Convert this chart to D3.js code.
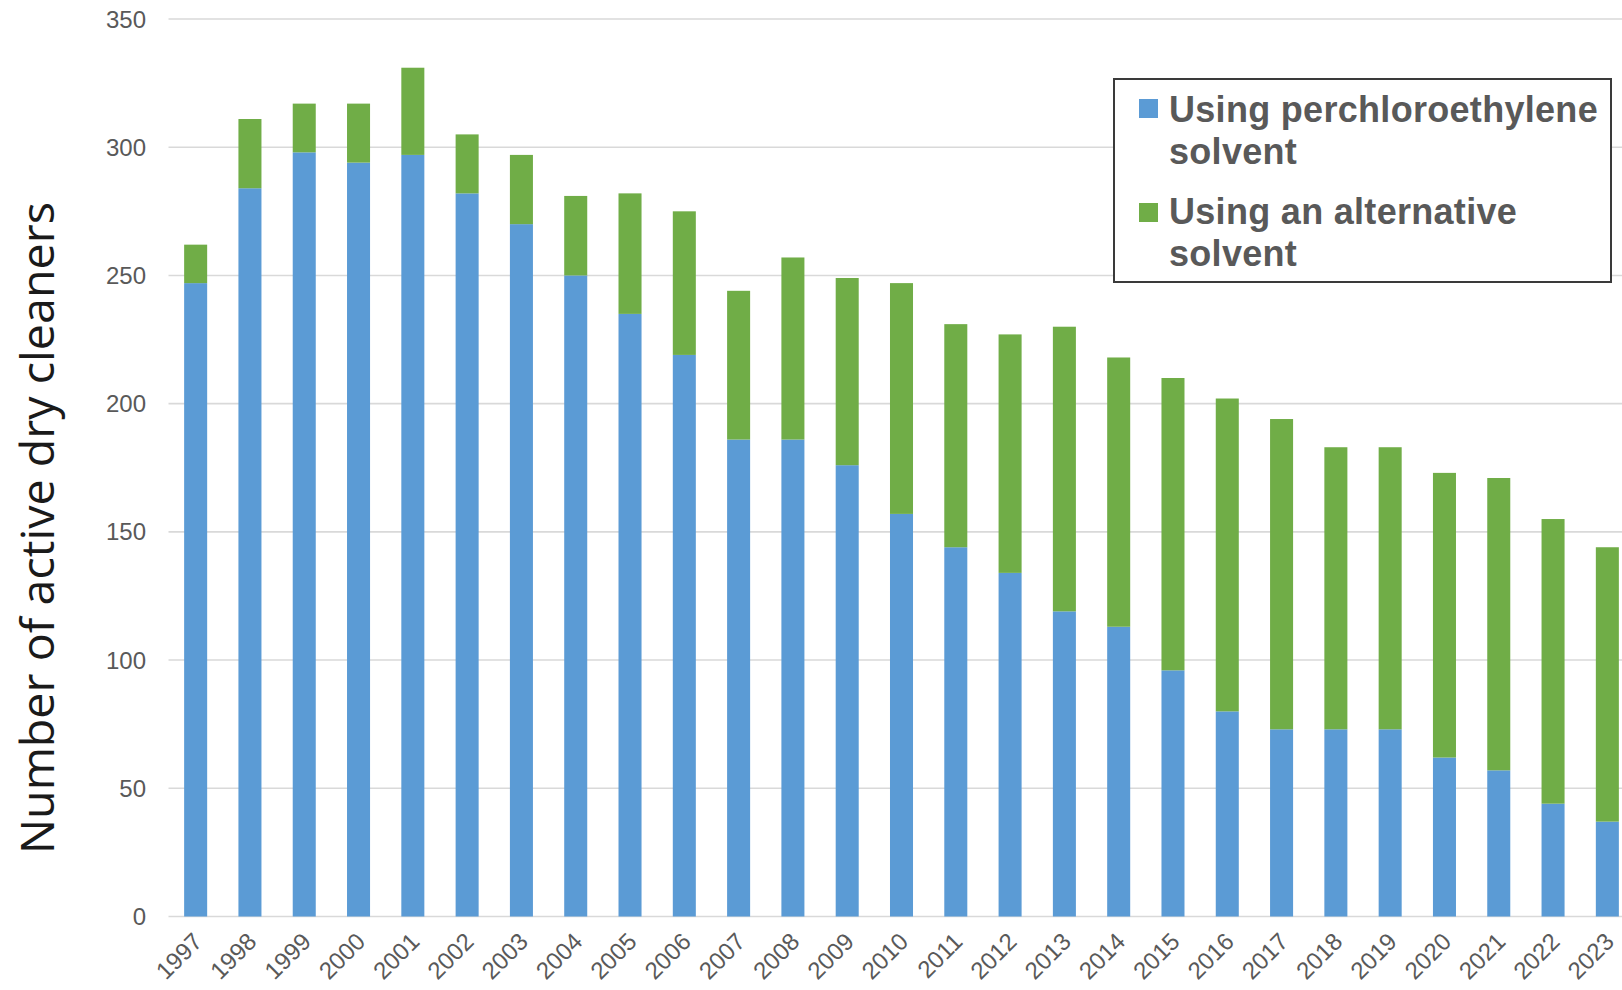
<!DOCTYPE html>
<html>
<head>
<meta charset="utf-8">
<script src="https://cdn.jsdelivr.net/npm/d3@7"></script>
<style>
  html, body { margin: 0; padding: 0; background: #ffffff; }
  svg { display: block; }
</style>
</head>
<body>
<script>
// ---- data ----
const years = ["1997","1998","1999","2000","2001","2002","2003","2004","2005","2006","2007","2008","2009","2010","2011","2012","2013","2014","2015","2016","2017","2018","2019","2020","2021","2022","2023"];
const percValues = [247, 284, 298, 294, 297, 282, 270, 250, 235, 219, 186, 186, 176, 157, 144, 134, 119, 113, 96, 80, 73, 73, 73, 62, 57, 44, 37];
const altValues  = [15, 27, 19, 23, 34, 23, 27, 31, 47, 56, 58, 71, 73, 90, 87, 93, 111, 105, 114, 122, 121, 110, 110, 111, 114, 111, 107];
const seriesNames = ["Using perchloroethylene solvent", "Using an alternative solvent"];
const legendLines = [["Using perchloroethylene", "solvent"], ["Using an alternative", "solvent"]];
const yTicks = [0, 50, 100, 150, 200, 250, 300, 350];
const yTitle = "Number of active dry cleaners";

const W = 1622, H = 990;
const colors = ["#5B9BD5", "#70AD47"];

const rows = years.map((yr, i) => ({ year: yr, perc: percValues[i], alt: altValues[i] }));

const svg = d3.select("body").append("svg").attr("width", W).attr("height", H);

const x = d3.scaleBand().domain(years).range([168.5, 1634.5]).paddingInner(0.576).paddingOuter(0.288);
const y = d3.scaleLinear().domain([0, 350]).range([916.5, 19]);

// gridlines
svg.append("g").selectAll("line").data(yTicks).join("line")
  .attr("x1", 168.5).attr("x2", W)
  .attr("y1", d => y(d)).attr("y2", d => y(d))
  .attr("stroke", "#d9d9d9").attr("stroke-width", 1.6);

// y tick labels
svg.append("g").selectAll("text").data(yTicks).join("text")
  .attr("x", 146).attr("y", d => y(d)).attr("dy", "0.36em")
  .attr("text-anchor", "end")
  .attr("font-family", "'Liberation Sans', Arial, sans-serif")
  .attr("font-size", 24).attr("fill", "#595959")
  .text(d => d);

// stacked bars
const stack = d3.stack().keys(["perc", "alt"]);
const layers = stack(rows);
svg.append("g").selectAll("g").data(layers).join("g")
  .attr("fill", (d, i) => colors[i])
  .selectAll("rect").data(d => d).join("rect")
  .attr("x", d => x(d.data.year))
  .attr("width", x.bandwidth())
  .attr("y", d => y(d[1]))
  .attr("height", d => y(d[0]) - y(d[1]));

// x tick labels
svg.append("g").selectAll("text").data(years).join("text")
  .attr("transform", d => `translate(${x(d) + x.bandwidth() / 2 + 2},${937}) rotate(-45)`)
  .attr("text-anchor", "end").attr("dy", "0.36em")
  .attr("font-family", "'Liberation Sans', Arial, sans-serif")
  .attr("font-size", 24).attr("fill", "#595959")
  .text(d => d);

// y axis title
svg.append("text")
  .attr("transform", "translate(54,528) rotate(-90)")
  .attr("text-anchor", "middle")
  .attr("font-family", "'Open Sans', 'Noto Sans', sans-serif")
  .attr("font-size", 46).attr("fill", "#1a1a1a")
  .attr("textLength", 652).attr("lengthAdjust", "spacingAndGlyphs")
  .text(yTitle);

// legend
const lg = svg.append("g");
lg.append("rect").attr("x", 1114).attr("y", 79).attr("width", 497).attr("height", 203)
  .attr("fill", "#ffffff").attr("stroke", "#3a3a3a").attr("stroke-width", 2);
const entryY = [99, 203];
const lineBase = [[122, 164], [224, 266]];
seriesNames.forEach((name, i) => {
  lg.append("rect").attr("x", 1139).attr("y", entryY[i]).attr("width", 19).attr("height", 19)
    .attr("fill", colors[i]);
  const t = lg.append("text")
    .attr("font-family", "'Liberation Sans', Arial, sans-serif")
    .attr("font-weight", "bold").attr("font-size", 36).attr("fill", "#595959")
    .attr("letter-spacing", 0.3);
  legendLines[i].forEach((ln, j) => {
    t.append("tspan").attr("x", 1169).attr("y", lineBase[i][j]).text(ln);
  });
});
</script>
</body>
</html>
